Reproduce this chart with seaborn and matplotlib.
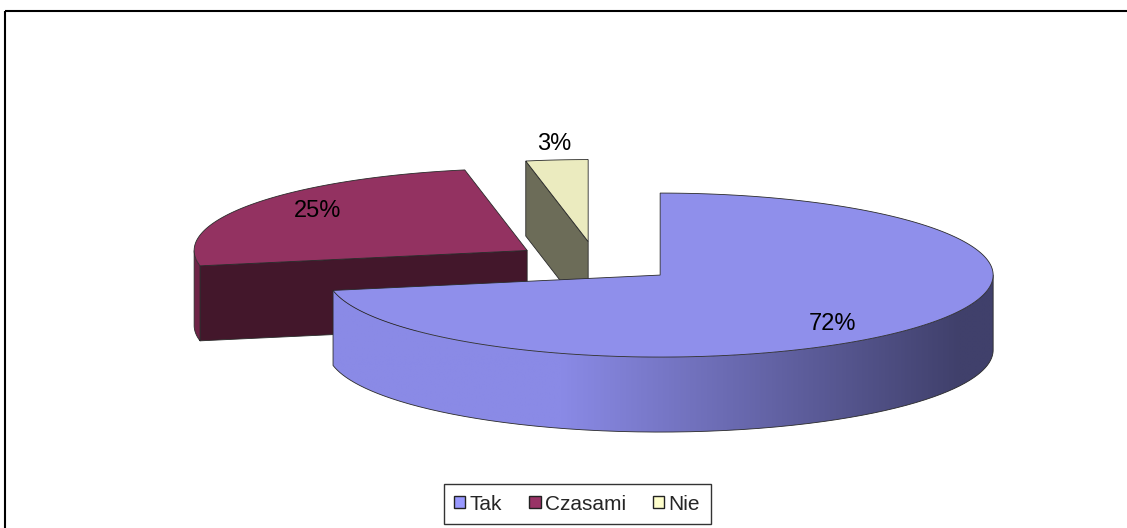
import numpy as np
import seaborn as sns
import matplotlib
matplotlib.use("Agg")
import matplotlib.pyplot as plt
from matplotlib.patches import Polygon, Patch, Rectangle
from matplotlib.colors import LinearSegmentedColormap

# data
labels = ["Tak", "Czasami", "Nie"]
values = [72, 25, 3]
pct_labels = ["72%", "25%", "3%"]

sns.set_style("white")
plt.rcParams["font.family"] = ["Liberation Sans", "DejaVu Sans"]

top_cols = sns.color_palette(["#8F8FEB", "#933261", "#EBEBBF"])
wall_cols = sns.color_palette(["#8A8AE6", "#43172B", "#6C6C58"])
rim_cols = sns.color_palette(["#8A8AE6", "#6E2447", "#8A8A70"])
legend_cols = sns.color_palette(["#9999FF", "#993366", "#FFFFCC"])
tak_dark = "#40406B"
edge = "#2a2a2a"

# pie geometry (pixel units, y downwards)
cx0, cy0 = 596, 262
a, b = 333, 82
depth = 75
explode = 0.25
# label placement factors (x radius, y radius) per slice
lab_r = [(0.67, 0.94), (0.76, 0.85), (1.09, 1.19)]

W, H = 1127, 528
fig = plt.figure(figsize=(W / 100, H / 100), dpi=100)
ax = fig.add_axes([0, 0, 1, 1])
ax.set_xlim(0, W)
ax.set_ylim(H, 0)
ax.axis("off")


def pt(c, th, r=1.0, dz=0.0):
    return (c[0] + r * a * np.cos(th), c[1] - r * b * np.sin(th) + dz)


total = sum(values)
cum = np.concatenate([[0], np.cumsum(values)]) / total
starts = np.deg2rad(90 - 360 * cum[:-1])
ends = np.deg2rad(90 - 360 * cum[1:])
mids = (starts + ends) / 2
centers = [pt((cx0, cy0), m, explode) for m in mids]


def draw_slice(i, gradient=False):
    c = centers[i]
    th1, th2 = starts[i], ends[i]   # th1 > th2 (clockwise)
    z = 5 + 10 * (2 - i) if i > 0 else 40
    # radial walls, visible if outward normal faces the viewer
    for th, nrm in [(th1, th1 + np.pi / 2), (th2, th2 - np.pi / 2)]:
        if np.sin(nrm) < -0.01:
            p = [c, pt(c, th), pt(c, th, dz=depth), (c[0], c[1] + depth)]
            ax.add_patch(Polygon(p, closed=True, fc=wall_cols[i], ec=edge, lw=0.6, zorder=z))
    # rim wall, front half only
    ts = np.linspace(th2, th1, 600)
    ts = ts[np.sin(ts) < 0]
    if len(ts) > 1:
        p = [pt(c, t) for t in ts] + [pt(c, t, dz=depth) for t in ts[::-1]]
        if gradient:
            poly = Polygon(p, closed=True, fc="none", ec="none", zorder=z + 1)
            ax.add_patch(poly)
            x0, x1 = pt(c, ts[0])[0], pt(c, ts[-1])[0]
            xs = np.linspace(min(x0, x1), max(x0, x1), 500)
            f = np.clip((xs - 560) / 400, 0, 1)[None, :]
            cmap = LinearSegmentedColormap.from_list("tak", [rim_cols[i], tak_dark])
            im = ax.imshow(f, cmap=cmap, vmin=0, vmax=1, aspect="auto",
                           extent=(xs[0], xs[-1], c[1] + b + depth + 2, c[1] - 2),
                           zorder=z + 1, interpolation="bilinear")
            im.set_clip_path(poly)
        else:
            ax.add_patch(Polygon(p, closed=True, fc=rim_cols[i], ec="none", zorder=z + 1))
        outline = [pt(c, ts[0])] + [pt(c, t, dz=depth) for t in ts] + [pt(c, ts[-1])]
        xs_, ys_ = zip(*outline)
        ax.plot(xs_, ys_, color=edge, lw=0.6, zorder=z + 2)
    # top face
    arc = np.linspace(th1, th2, 300)
    p = [c] + [pt(c, t) for t in arc]
    ax.add_patch(Polygon(p, closed=True, fc=top_cols[i], ec=edge, lw=0.6, zorder=z + 3))


draw_slice(1)
draw_slice(2)
draw_slice(0, gradient=True)
ax.set_xlim(0, W)
ax.set_ylim(H, 0)

for i, m in enumerate(mids):
    c = centers[i]
    x = c[0] + lab_r[i][0] * a * np.cos(m)
    y = c[1] - lab_r[i][1] * b * np.sin(m)
    ax.text(x, y, pct_labels[i], ha="center", va="center", fontsize=17, color="black", zorder=60)

# outer chart frame
ax.add_patch(Rectangle((5, 11), W + 20, H + 20, fill=False, ec="black", lw=1.5, zorder=70))

handles = [Patch(fc=legend_cols[i], ec="#222222", lw=1.0) for i in range(len(labels))]
leg = fig.legend(handles, labels, loc="center", bbox_to_anchor=(577 / W, 1 - 504 / H),
                 ncol=3, frameon=True, fontsize=15, handlelength=0.55, handleheight=0.55,
                 handletextpad=0.2, columnspacing=1.3, borderpad=0.5, borderaxespad=0,
                 fancybox=False)
leg.get_frame().set_edgecolor("black")
leg.get_frame().set_linewidth(1.0)

fig.savefig("out.png", dpi=100)
